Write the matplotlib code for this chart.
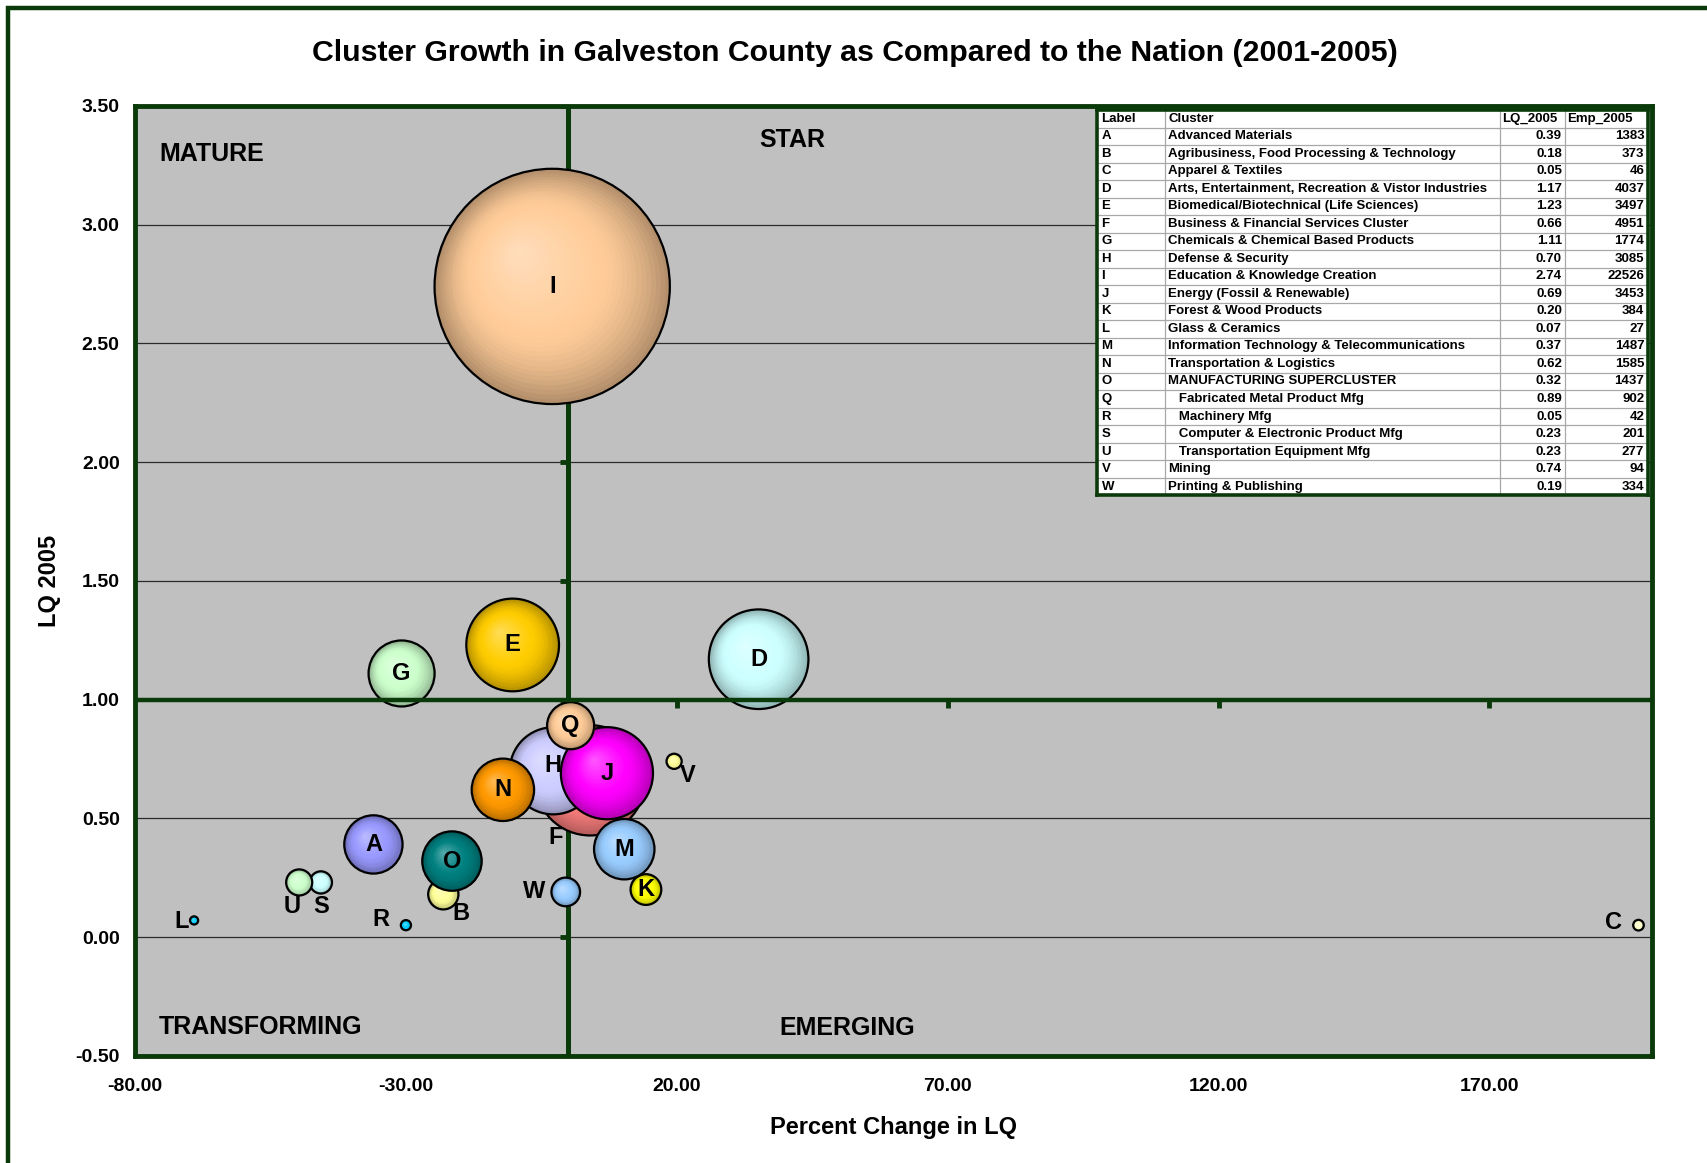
import matplotlib
matplotlib.use("Agg")
import matplotlib.pyplot as plt
from matplotlib.patches import Rectangle
from matplotlib.transforms import ScaledTranslation
from matplotlib.colors import to_rgb
import numpy as np

plt.rcParams["font.family"] = "Liberation Sans"
plt.rcParams["font.weight"] = "bold"

# ---- data -------------------------------------------------------------
labels = ["A", "B", "C", "D", "E", "F", "G", "H", "I", "J", "K",
          "L", "M", "N", "O", "Q", "R", "S", "U", "V", "W"]
clusters = [
    "Advanced Materials",
    "Agribusiness, Food Processing & Technology",
    "Apparel & Textiles",
    "Arts, Entertainment, Recreation & Vistor Industries",
    "Biomedical/Biotechnical (Life Sciences)",
    "Business & Financial Services Cluster",
    "Chemicals & Chemical Based Products",
    "Defense & Security",
    "Education & Knowledge Creation",
    "Energy (Fossil & Renewable)",
    "Forest & Wood Products",
    "Glass & Ceramics",
    "Information Technology & Telecommunications",
    "Transportation & Logistics",
    "MANUFACTURING SUPERCLUSTER",
    "   Fabricated Metal Product Mfg",
    "   Machinery Mfg",
    "   Computer & Electronic Product Mfg",
    "   Transportation Equipment Mfg",
    "Mining",
    "Printing & Publishing",
]
lq_2005 = [0.39, 0.18, 0.05, 1.17, 1.23, 0.66, 1.11, 0.70, 2.74, 0.69, 0.20,
           0.07, 0.37, 0.62, 0.32, 0.89, 0.05, 0.23, 0.23, 0.74, 0.19]
emp_2005 = [1383, 373, 46, 4037, 3497, 4951, 1774, 3085, 22526, 3453, 384,
            27, 1487, 1585, 1437, 902, 42, 201, 277, 94, 334]
# percent change in LQ 2001-2005
pct_change = [-36.0, -23.1, 197.5, 35.1, -10.3, 4.0, -30.8, -2.8, -3.0, 7.1, 14.3,
              -69.1, 10.3, -12.1, -21.5, 0.4, -30.0, -45.7, -49.7, 19.5, -0.5]

bubble_colors = {
    "A": "#9999FF", "B": "#FFFF99", "C": "#FFFFCC", "D": "#CCFFFF",
    "E": "#FFCC00", "F": "#FF8080", "G": "#CCFFCC", "H": "#CCCCFF",
    "I": "#FFCC99", "J": "#FF00FF", "K": "#FFFF00", "L": "#00CCFF",
    "M": "#99CCFF", "N": "#FF9900", "O": "#008080", "Q": "#FFCC99",
    "R": "#00CCFF", "S": "#CCFFFF", "U": "#CCFFCC", "V": "#FFFF99",
    "W": "#99CCFF",
}
# data labels that sit beside the bubble instead of on it (offset in points)
label_offsets = {
    "F": (-25, -41), "W": (-23, 0), "V": (10, -10), "B": (13, -14),
    "U": (-5, -17), "S": (0, -17), "R": (-18, 4), "L": (-9, -1), "C": (-18, 2),
    "H": (0, 4),
}

GREEN = "#0A3A0A"
MAX_RADIUS_PT = 84.7


def mix(c1, c2, t):
    a, b = np.array(to_rgb(c1)), np.array(to_rgb(c2))
    return tuple(a + (b - a) * t)


def shade(base, f):
    # f = fraction of the radius, 1 at the rim
    edge = mix(base, "#000000", 0.3)
    hi = mix(base, "#FFFFFF", 0.35)
    if f > 0.55:
        return mix(base, edge, ((f - 0.55) / 0.45) ** 1.6)
    return mix(hi, base, f / 0.55)


fig = plt.figure(figsize=(17.07, 11.63), dpi=100)
fig.add_artist(Rectangle((0.0049, -0.1), 1.2, 1.0929,
                         transform=fig.transFigure, fill=False,
                         edgecolor=GREEN, linewidth=3.2))

ax = fig.add_axes([0.0791, 0.0922, 0.8887, 0.8167])
ax.set_facecolor("#C0C0C0")
ax.set_xlim(-80, 200)
ax.set_ylim(-0.5, 3.5)

xticks = np.arange(-80, 171, 50)
yticks = np.arange(-0.5, 3.51, 0.5)
ax.set_xticks(xticks)
ax.set_xticklabels([f"{v:.2f}" for v in xticks], fontsize=14, fontweight="bold")
ax.set_yticks(yticks)
ax.set_yticklabels([f"{v:.2f}" for v in yticks], fontsize=14, fontweight="bold")
ax.tick_params(axis="x", length=0, pad=16)
ax.tick_params(axis="y", length=0, pad=11)
for sp in ax.spines.values():
    sp.set_color(GREEN)
    sp.set_linewidth(3.5)

for yv in yticks:
    ax.axhline(yv, color="#2b2b2b", linewidth=0.9, zorder=0.5)

# crossing axes: vertical at 0 sits behind bubbles, horizontal at 1 on top
ax.axvline(0, color=GREEN, linewidth=3.6, zorder=1)
ax.plot(np.zeros(len(yticks)), yticks, ls="none", marker=0, ms=6, mew=3.5,
        color=GREEN, zorder=1)
ax.axhline(1, color=GREEN, linewidth=3.2, zorder=50)
ax.plot(xticks[2:], np.ones(len(xticks) - 2), ls="none", marker=3, ms=6, mew=3.5,
        color=GREEN, zorder=50)

# ---- bubbles (area proportional to employment) -------------------------
emp_max = max(emp_2005)
n_layers = 32
for i, lab in enumerate(labels):
    r_pt = MAX_RADIUS_PT * np.sqrt(emp_2005[i] / emp_max)
    base = bubble_colors[lab]
    z = 2 + i * 0.1
    x, y = pct_change[i], lq_2005[i]
    for k in range(n_layers):
        f = 1 - k / n_layers
        off = (1 - f) * 0.3 * r_pt / 72
        tr = ax.transData + ScaledTranslation(-off, off, fig.dpi_scale_trans)
        ax.scatter([x], [y], s=(2 * r_pt * f) ** 2, color=shade(base, f),
                   linewidths=0, transform=tr, zorder=z)
    ax.scatter([x], [y], s=(2 * r_pt) ** 2, facecolors="none", edgecolors="black",
               linewidths=1.6, zorder=z + 0.05)

for i, lab in enumerate(labels):
    dx, dy = label_offsets.get(lab, (0, 0))
    ax.annotate(lab, (pct_change[i], lq_2005[i]), xytext=(dx, dy),
                textcoords="offset points", ha="center", va="center",
                fontsize=17, fontweight="bold", zorder=60)

# quadrant names
ax.text(0.0158, 0.949, "MATURE", transform=ax.transAxes, fontsize=18,
        fontweight="bold", va="center", ha="left", zorder=60)
ax.text(0.4334, 0.964, "STAR", transform=ax.transAxes, fontsize=18,
        fontweight="bold", va="center", ha="center", zorder=60)
ax.text(0.0158, 0.030, "TRANSFORMING", transform=ax.transAxes, fontsize=18,
        fontweight="bold", va="center", ha="left", zorder=60)
ax.text(0.4693, 0.029, "EMERGING", transform=ax.transAxes, fontsize=18,
        fontweight="bold", va="center", ha="center", zorder=60)

ax.set_xlabel("Percent Change in LQ", fontsize=17, fontweight="bold")
ax.xaxis.set_label_coords(0.5, -0.063)
ax.set_ylabel("LQ 2005", fontsize=17, fontweight="bold")
ax.yaxis.set_label_coords(-0.049, 0.5)

fig.text(0.501, 0.954, "Cluster Growth in Galveston County as Compared to the Nation (2001-2005)",
         ha="center", va="center", fontsize=21.8, fontweight="bold")

# ---- legend table -----------------------------------------------------
tfont, tsize = "Liberation Sans", 9.5

tax = fig.add_axes([0.6427, 0.5741, 0.3228, 0.3313])
tax.set_xlim(0, 1)
tax.set_ylim(0, 1)
tax.set_xticks([])
tax.set_yticks([])
tax.set_zorder(5)
tax.set_facecolor("white")
for sp in tax.spines.values():
    sp.set_color(GREEN)
    sp.set_linewidth(2.6)

col_x = [0.1227, 0.7307, 0.8486]
n_rows = len(labels) + 1
row_h = 1 / n_rows
for cx in col_x:
    tax.axvline(cx, color="#A8A8A8", linewidth=0.9)
for r in range(1, n_rows):
    tax.axhline(1 - r * row_h, color="#A8A8A8", linewidth=0.9)

header = ["Label", "Cluster", "LQ_2005", "Emp_2005"]
hx = [0.008, col_x[0] + 0.006, col_x[1] + 0.005, col_x[2] + 0.005]
for h, x in zip(header, hx):
    tax.text(x, 1 - 0.5 * row_h, h, ha="left", va="center", family=tfont,
             fontsize=tsize, fontweight="bold")
for i in range(len(labels)):
    yc = 1 - (i + 1.5) * row_h
    tax.text(0.008, yc, labels[i], ha="left", va="center", family=tfont,
             fontsize=tsize, fontweight="bold")
    tax.text(col_x[0] + 0.006, yc, clusters[i], ha="left", va="center",
             family=tfont, fontsize=tsize, fontweight="bold")
    tax.text(col_x[2] - 0.005, yc, f"{lq_2005[i]:.2f}", ha="right", va="center",
             family=tfont, fontsize=tsize, fontweight="bold")
    tax.text(0.993, yc, f"{emp_2005[i]}", ha="right", va="center",
             family=tfont, fontsize=tsize, fontweight="bold")

fig.savefig("out.png", dpi=100)
